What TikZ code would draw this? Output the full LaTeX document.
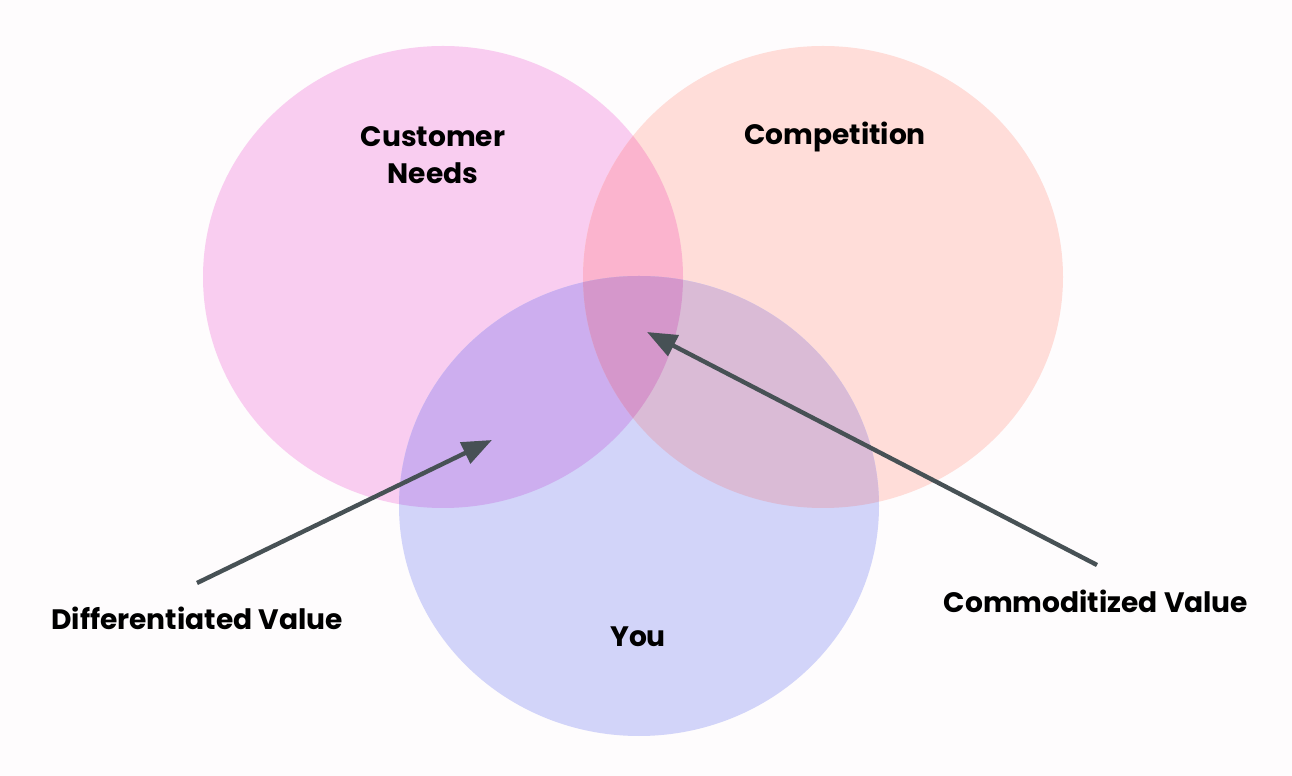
\documentclass[tikz,border=0pt]{standalone}
\usepackage{fontspec}
\setmainfont{Poppins}
\usetikzlibrary{arrows.meta}
\definecolor{bgc}{HTML}{FEFCFD}
\definecolor{cneed}{HTML}{F9CDF0}
\definecolor{ccomp}{HTML}{FFDDD9}
\definecolor{cyou}{HTML}{D2D4F9}
\definecolor{cnc}{HTML}{FBB4CE}
\definecolor{cny}{HTML}{CDAEEF}
\definecolor{ccy}{HTML}{DABBD6}
\definecolor{call}{HTML}{D597CB}
\definecolor{arr}{HTML}{475155}
\tikzset{
  lbl/.style={font=\bfseries\fontsize{16}{20}\selectfont, text=black, align=center, inner sep=0pt},
  pointer/.style={draw=arr, line width=2.5pt, -{Triangle[length=17pt,width=13pt]}},
}
\def\EA{(443,277) ellipse [x radius=240, y radius=231]}
\def\EB{(823,277) ellipse [x radius=240, y radius=231]}
\def\EC{(639,506) ellipse [x radius=240, y radius=230]}
\begin{document}
\begin{tikzpicture}[x=0.02cm,y=-0.02cm]
\fill[bgc] (0,0) rectangle (1292,776);
\useasboundingbox (0,0) rectangle (1292,776);
\fill[cneed] \EA;
\fill[ccomp] \EB;
\fill[cyou] \EC;
\begin{scope}\clip \EA; \fill[cnc] \EB; \end{scope}
\begin{scope}\clip \EA; \fill[cny] \EC; \end{scope}
\begin{scope}\clip \EB; \fill[ccy] \EC; \end{scope}
\begin{scope}\clip \EA; \clip \EB; \fill[call] \EC; \end{scope}
\node[lbl] (need) at (433,155) {Customer\\[1pt]Needs};
\node[lbl] (comp) at (835,137) {Competition};
\node[lbl] (you) at (638,637) {You};
\node[lbl] (diff) at (197,618) {Differentiated Value};
\node[lbl] (comm) at (1096,601) {Commoditized Value};
\coordinate (d0) at (197,583);
\coordinate (d1) at (492,440);
\coordinate (c0) at (1097,565);
\coordinate (c1) at (647,332);
\draw[pointer] (d0) -- (d1);
\draw[pointer] (c0) -- (c1);
\end{tikzpicture}
\end{document}
